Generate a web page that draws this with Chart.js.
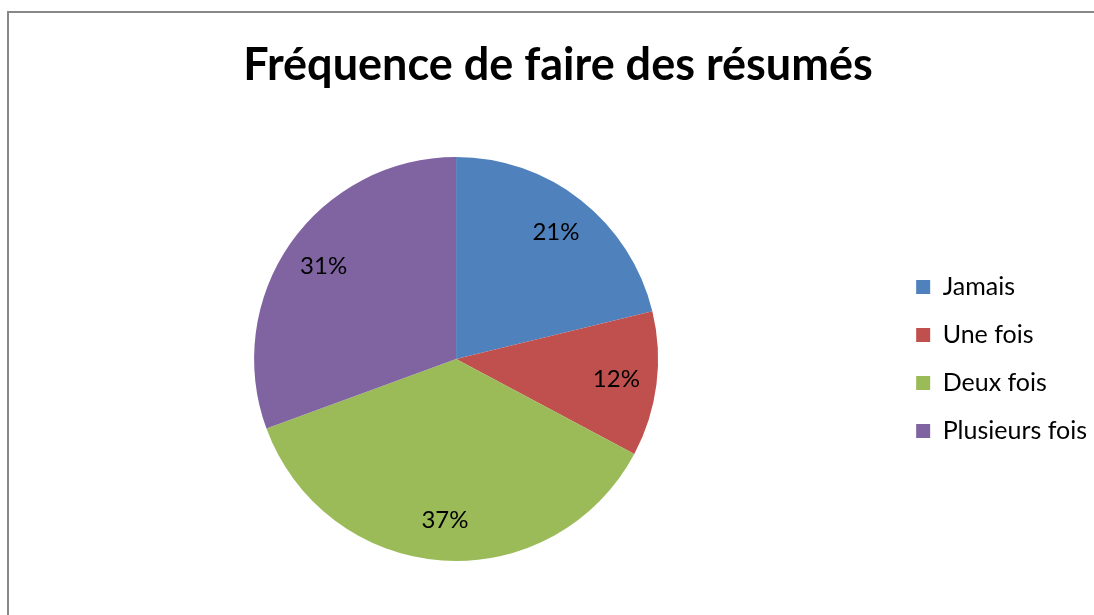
<!DOCTYPE html>
<html lang="fr">
<head>
    <meta charset="UTF-8">
    <title>Fréquence de faire des résumés</title>
    <script src="https://cdn.jsdelivr.net/npm/chart.js"></script>
    <style>
        body {
            margin: 0;
            background: #fff;
            overflow: hidden;
        }
        .frame {
            position: absolute;
            left: 7px;
            top: 11px;
            width: 1098px;
            height: 610px;
            border-top: 2px solid #888;
            border-left: 2px solid #888;
        }
    </style>
</head>
<body>
    <div class="frame">
        <canvas id="pie" width="1098" height="610"></canvas>
    </div>

    <script>
        const categories = ['Jamais', 'Une fois', 'Deux fois', 'Plusieurs fois'];
        const shares = [21.2, 11.6, 36.6, 30.6];
        const colors = ['#4F81BD', '#C0504D', '#9BBB59', '#8064A2'];

        const FONT = 'Lato, "Open Sans", sans-serif';

        // pourcentages dans les parts, a 80% du rayon
        const pctLabels = {
            id: 'pctLabels',
            afterDatasetsDraw(chart) {
                const ctx = chart.ctx;
                const meta = chart.getDatasetMeta(0);
                const total = shares.reduce((a, b) => a + b, 0);
                ctx.save();
                ctx.font = '24px ' + FONT;
                ctx.fillStyle = '#000';
                ctx.textAlign = 'center';
                ctx.textBaseline = 'middle';
                meta.data.forEach((arc, i) => {
                    const p = arc.getProps(['x', 'y', 'startAngle', 'endAngle', 'outerRadius'], true);
                    const mid = (p.startAngle + p.endAngle) / 2;
                    const r = p.outerRadius * 0.8;
                    const txt = Math.round(shares[i] / total * 100) + '%';
                    ctx.fillText(txt, p.x + Math.cos(mid) * r, p.y + Math.sin(mid) * r);
                });
                ctx.restore();
            }
        };

        new Chart(document.getElementById('pie'), {
            type: 'pie',
            data: {
                labels: categories,
                datasets: [{
                    data: shares,
                    backgroundColor: colors,
                    borderWidth: 0
                }]
            },
            options: {
                responsive: false,
                animation: false,
                layout: { padding: { left: 10, right: 10, top: 0, bottom: 62 } },
                plugins: {
                    title: {
                        display: true,
                        text: 'Fréquence de faire des résumés',
                        color: '#000',
                        font: { family: FONT, size: 45, weight: 'bold', lineHeight: 1.2 },
                        padding: { top: 25, bottom: 65 }
                    },
                    legend: {
                        position: 'right',
                        fullSize: false,
                        labels: {
                            color: '#000',
                            font: { family: FONT, size: 25 },
                            boxWidth: 14,
                            boxHeight: 14,
                            padding: 23
                        }
                    },
                    tooltip: { enabled: false }
                }
            },
            plugins: [pctLabels]
        });
    </script>
</body>
</html>
